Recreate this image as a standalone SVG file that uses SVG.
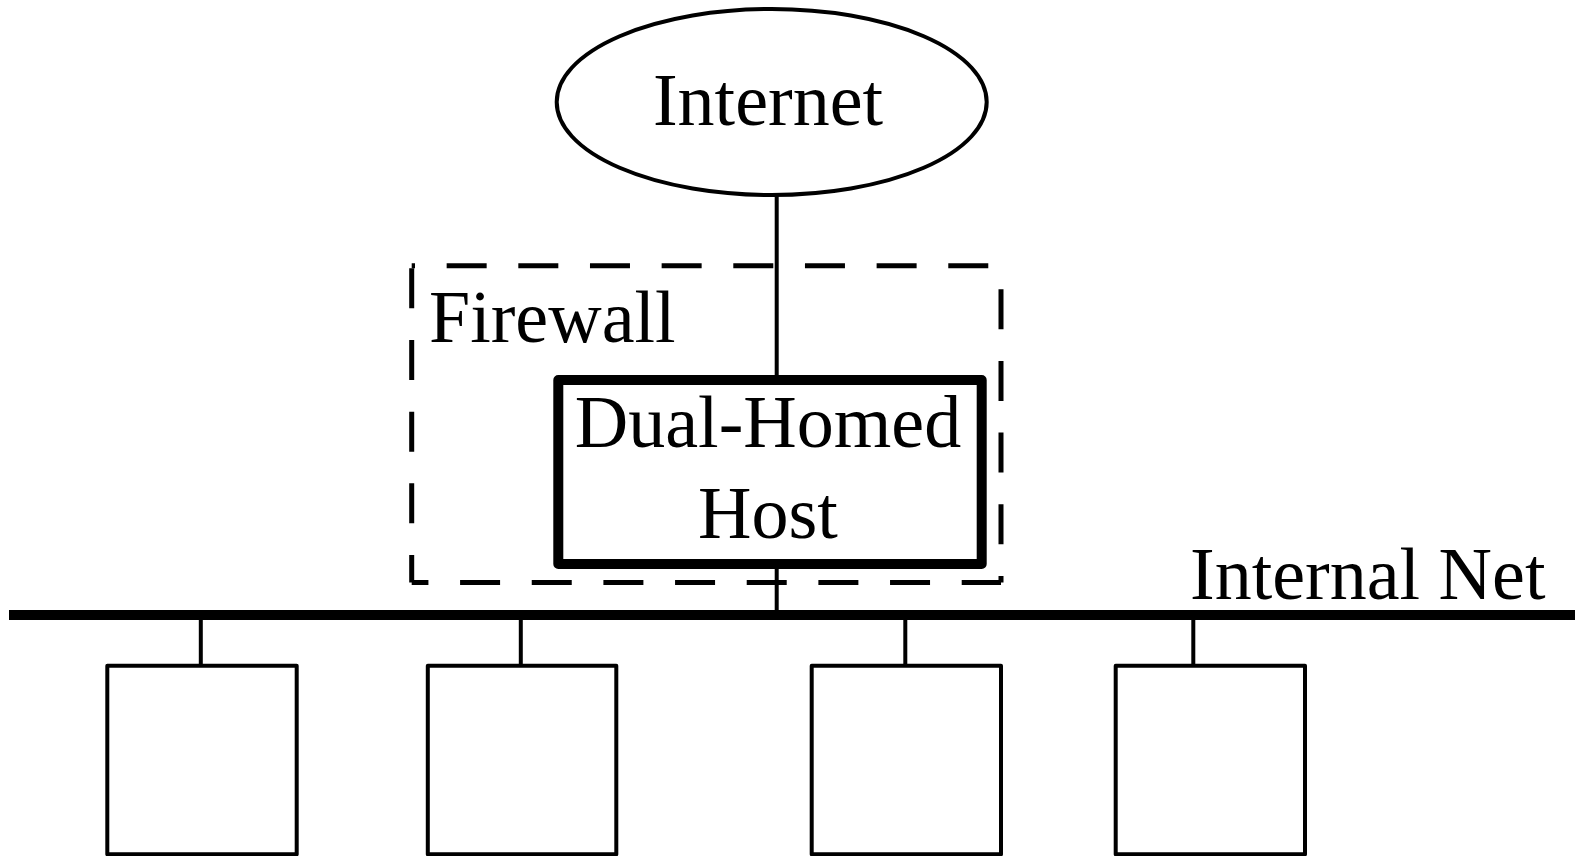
<svg xmlns="http://www.w3.org/2000/svg" width="1575" height="856" viewBox="0 0 1575 856">
<style>
.lbl{font-family:"Liberation Serif","Times New Roman",serif;font-size:74px;fill:#000}
.mid{text-anchor:middle}
.ln{stroke:#000;stroke-width:4;fill:none}
.dash{stroke:#000;stroke-width:5;fill:none;stroke-dasharray:40 31.66}
.box{stroke:#000;stroke-width:4;fill:#fff;stroke-linejoin:round}
</style>
<rect x="0" y="0" width="1575" height="856" fill="#fff"/>
<g id="firewall">
<line class="dash" x1="411.7" y1="265.7" x2="1001" y2="265.7" stroke-dashoffset="36.7"/>
<line class="dash" x1="1001" y1="265.7" x2="1001" y2="582.5" stroke-dashoffset="48.06"/>
<line class="dash" x1="1001" y1="582.5" x2="411.7" y2="582.5" stroke-dashoffset="0.7"/>
<line class="dash" x1="411.7" y1="582.5" x2="411.7" y2="265.7" stroke-dashoffset="12.5"/>
<text class="lbl" x="429" y="341.7">Firewall</text>
</g>
<g id="connectors">
<line class="ln" x1="776.7" y1="195" x2="776.7" y2="380"/>
<line class="ln" x1="776.7" y1="564" x2="776.7" y2="615"/>
<line class="ln" x1="200.8" y1="615" x2="200.8" y2="666"/>
<line class="ln" x1="520.8" y1="615" x2="520.8" y2="666"/>
<line class="ln" x1="905.3" y1="615" x2="905.3" y2="666"/>
<line class="ln" x1="1193.3" y1="615" x2="1193.3" y2="666"/>
</g>
<g id="internet">
<ellipse cx="771.7" cy="102" rx="215" ry="93" fill="#fff" stroke="#000" stroke-width="4"/>
<text class="lbl mid" x="768" y="125">Internet</text>
</g>
<g id="host">
<rect x="558.3" y="380" width="423.4" height="184" fill="#fff" stroke="#000" stroke-width="10" stroke-linejoin="round"/>
<text class="lbl mid" x="768" y="447.3">Dual-Homed</text>
<text class="lbl mid" x="768" y="538.3">Host</text>
</g>
<g id="internal-net">
<line x1="9" y1="615" x2="1575" y2="615" stroke="#000" stroke-width="10"/>
<text class="lbl" x="1190" y="599">Internal Net</text>
</g>
<g id="pc1"><rect class="box" x="107.3" y="665.7" width="189.4" height="188.6"/></g>
<g id="pc2"><rect class="box" x="427.8" y="665.7" width="188.5" height="188.6"/></g>
<g id="pc3"><rect class="box" x="811.7" y="665.7" width="189.3" height="188.6"/></g>
<g id="pc4"><rect class="box" x="1115.7" y="665.7" width="189.3" height="188.6"/></g>
</svg>
